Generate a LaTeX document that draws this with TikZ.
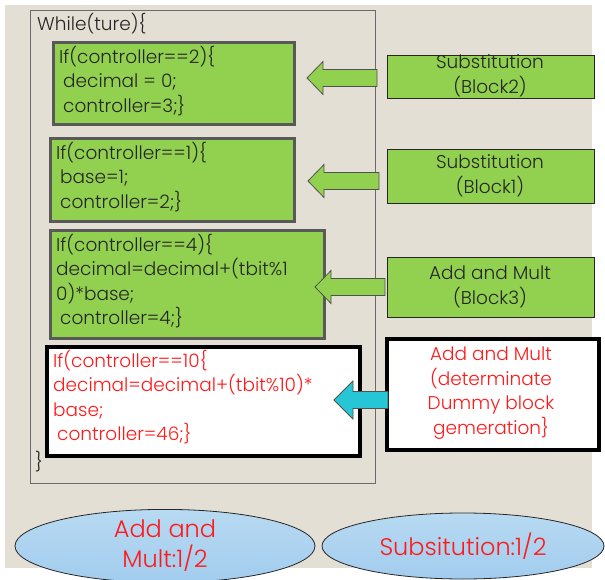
\documentclass[tikz,border=0pt]{standalone}
\usepackage{fontspec}
\setmainfont{Poppins}[UprightFont={* Light}]
\usetikzlibrary{shapes.geometric}
\definecolor{paper}{HTML}{E4DFD5}
\definecolor{leaf}{HTML}{92D050}
\definecolor{slate}{HTML}{595959}
\definecolor{ink}{HTML}{262626}
\definecolor{alert}{HTML}{FF1A1A}
\definecolor{teal}{HTML}{26C6D6}
\definecolor{skytop}{HTML}{B8DAF2}
\definecolor{skybot}{HTML}{A2CCEE}
\tikzset{
  codefont/.style={font=\fontsize{18.5}{24.5}\selectfont},
  codebox/.style={draw=slate, line width=3pt, fill=leaf, anchor=north west, inner sep=0pt},
  dummybox/.style={draw=black, line width=4pt, fill=white, anchor=north west, inner sep=0pt},
  codetext/.style={codefont, align=left, anchor=north west, inner sep=0pt, text=ink},
  tagbox/.style={draw=ink, line width=0.9pt, fill=leaf, anchor=north west, inner sep=0pt},
  tagtext/.style={codefont, align=center, inner sep=0pt, text=ink},
  blockarrow/.style={draw=ink!80, line width=0.8pt, fill=leaf},
  ratio/.style={ellipse, draw=ink, line width=0.8pt, top color=skytop, bottom color=skybot,
    inner sep=0pt, text=alert, align=center, font=\fontsize{24}{30}\selectfont}
}
\begin{document}
\begin{tikzpicture}[x=1pt,y=-1pt]
\useasboundingbox (0,0) rectangle (605,580);
% slide area and loop frame
\fill[paper] (5,5) rectangle (592,568);
\draw[slate!90, line width=0.9pt] (30,10) rectangle (375,483);
\node[codefont, anchor=north west, inner sep=0pt, text=ink] (whilehead) at (37,13) {While(ture)\{};
\node[codefont, anchor=north west, inner sep=0pt, text=ink] (whileend) at (35,451) {\}};

% code blocks inside the loop
\node[codebox, minimum width=241pt, minimum height=82pt] (b2) at (52,41) {};
\node[codetext] at (59,46) {If(controller==2)\{\\\hspace*{4pt}decimal = 0;\\\hspace*{4pt}controller=3;\}};

\node[codebox, minimum width=244pt, minimum height=83pt] (b1) at (49,137) {};
\node[codetext] at (56,142) {If(controller==1)\{\\\hspace*{4pt}base=1;\\\hspace*{4pt}controller=2;\}};

\node[codebox, minimum width=274pt, minimum height=108pt] (b3) at (49,229) {};
\node[codetext] at (56,234) {If(controller==4)\{\\decimal=decimal+(tbit\%1\\0)*base;\\\hspace*{4pt}controller=4;\}};

\node[dummybox, minimum width=313pt, minimum height=109pt] (bd) at (45,345) {};
\node[codetext, text=alert] at (53,350) {If(controller==10\{\\decimal=decimal+(tbit\%10)*\\base;\\\hspace*{4pt}controller=46;\}};

% labels on the right
\node[tagbox, minimum width=207pt, minimum height=43pt] (t2) at (387,55) {};
\node[tagtext] at (490,76) {Substitution\\(Block2)};
\node[tagbox, minimum width=207pt, minimum height=54pt] (t1) at (387,149) {};
\node[tagtext] at (490,176) {Substitution\\(Block1)};
\node[tagbox, minimum width=207pt, minimum height=60pt] (t3) at (387,257) {};
\node[tagtext] at (490,287) {Add and Mult\\(Block3)};
\node[dummybox, minimum width=212pt, minimum height=111pt] (td) at (385,337) {};
\node[tagtext, text=alert] at (491,393) {Add and Mult\\(determinate\\Dummy block\\gemeration\}};

% block arrows pointing from labels to code
\draw[blockarrow] (307,78) -- (323,61.5) -- (323,69.5) -- (377,69.5) -- (377,86.5) -- (323,86.5) -- (323,94.5) -- cycle;
\draw[blockarrow] (308,181) -- (324,164.5) -- (324,172.5) -- (379,172.5) -- (379,189.5) -- (324,189.5) -- (324,197.5) -- cycle;
\draw[blockarrow] (315,287) -- (331,270.5) -- (331,278.5) -- (385,278.5) -- (385,295.5) -- (331,295.5) -- (331,303.5) -- cycle;
\draw[blockarrow, fill=teal] (334,400) -- (353,381) -- (353,391.5) -- (388,391.5) -- (388,408.5) -- (353,408.5) -- (353,419) -- cycle;

% ratios
\node[ratio, minimum width=300pt, minimum height=66pt] (addmult) at (165,546) {Add and\\Mult:1/2};
\node[ratio, minimum width=282pt, minimum height=66pt] (subst) at (463,546) {Subsitution:1/2};
\end{tikzpicture}
\end{document}
